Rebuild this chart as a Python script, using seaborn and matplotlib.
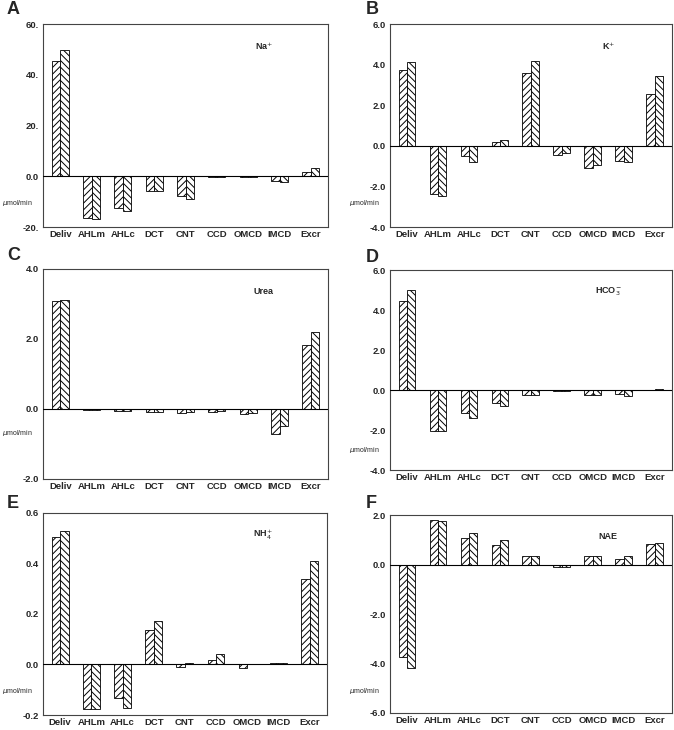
import pandas as pd
import matplotlib
matplotlib.use('Agg')
import matplotlib.pyplot as plt
import seaborn as sns

segments = ['Deliv', 'AHLm', 'AHLc', 'DCT', 'CNT', 'CCD', 'OMCD', 'IMCD', 'Excr']

# two bars per segment: first (///) and second (\\\)
na_1 = [45.3, -16.6, -12.6, -5.6, -7.9, -0.3, -0.1, -1.7, 1.6]
na_2 = [49.9, -16.8, -13.6, -5.7, -8.9, -0.4, -0.2, -2.1, 3.4]
k_1 = [3.72, -2.36, -0.51, 0.21, 3.60, -0.45, -1.07, -0.76, 2.56]
k_2 = [4.12, -2.48, -0.78, 0.30, 4.17, -0.33, -0.94, -0.79, 3.44]
urea_1 = [3.09, -0.02, -0.06, -0.09, -0.12, -0.09, -0.15, -0.71, 1.83]
urea_2 = [3.10, -0.02, -0.06, -0.08, -0.09, -0.06, -0.12, -0.50, 2.18]
hco3_1 = [4.48, -2.05, -1.14, -0.64, -0.26, -0.04, -0.26, -0.20, 0.02]
hco3_2 = [5.01, -2.02, -1.37, -0.81, -0.26, -0.04, -0.26, -0.31, 0.04]
nh4_1 = [0.504, -0.175, -0.132, 0.136, -0.009, 0.018, -0.014, 0.004, 0.340]
nh4_2 = [0.528, -0.178, -0.171, 0.173, 0.005, 0.042, 0.001, 0.004, 0.408]
nae_1 = [-3.73, 1.82, 1.08, 0.81, 0.34, -0.09, 0.34, 0.23, 0.82]
nae_2 = [-4.18, 1.78, 1.27, 1.01, 0.34, -0.09, 0.36, 0.34, 0.86]

ticks_a = [-20, 0, 20, 40, 60]
ticklabels_a = ['-20.', '0.0', '20.', '40.', '60.']
ticks_b = [-4, -2, 0, 2, 4, 6]
ticklabels_b = ['-4.0', '-2.0', '0.0', '2.0', '4.0', '6.0']
ticks_c = [-2, 0, 2, 4]
ticklabels_c = ['-2.0', '0.0', '2.0', '4.0']
ticks_d = [-4, -2, 0, 2, 4, 6]
ticklabels_d = ['-4.0', '-2.0', '0.0', '2.0', '4.0', '6.0']
ticks_e = [-0.2, 0, 0.2, 0.4, 0.6]
ticklabels_e = ['-0.2', '0.0', '0.2', '0.4', '0.6']
ticks_f = [-6, -4, -2, 0, 2]
ticklabels_f = ['-6.0', '-4.0', '-2.0', '0.0', '2.0']

sns.set_style('white')
plt.rcParams['font.family'] = ['Liberation Sans', 'DejaVu Sans']
plt.rcParams['hatch.linewidth'] = 0.7

fig = plt.figure(figsize=(6.74, 7.30), dpi=100)

# letter position given in pixels (x, y from top)
panels = [
    ('A', r'Na$^{+}$', na_1, na_2, ticks_a, ticklabels_a, [0.0638, 0.689, 0.423, 0.278], 0.118, (7, 10)),
    ('B', r'K$^{+}$', k_1, k_2, ticks_b, ticklabels_b, [0.5786, 0.689, 0.418, 0.278], 0.118, (366, 10)),
    ('C', 'Urea', urea_1, urea_2, ticks_c, ticklabels_c, [0.0638, 0.344, 0.423, 0.288], 0.22, (7, 255)),
    ('D', r'HCO$_3^{-}$', hco3_1, hco3_2, ticks_d, ticklabels_d, [0.5786, 0.356, 0.418, 0.274], 0.10, (366, 258)),
    ('E', r'NH$_4^{+}$', nh4_1, nh4_2, ticks_e, ticklabels_e, [0.0638, 0.0205, 0.421, 0.277], 0.12, (7, 503)),
    ('F', 'NAE', nae_1, nae_2, ticks_f, ticklabels_f, [0.5786, 0.0233, 0.418, 0.271], 0.11, (366, 503)),
]

for letter, ion, v1, v2, ticks, ticklabels, pos, ylab_y, lpos in panels:
    ax = fig.add_axes(pos)
    df = pd.DataFrame({
        'segment': segments * 2,
        'value': v1 + v2,
        'run': ['1'] * len(segments) + ['2'] * len(segments),
    })
    sns.barplot(data=df, x='segment', y='value', hue='run', palette=['white', 'white'],
                edgecolor='black', linewidth=0.6, width=0.54, legend=False, ax=ax)
    for cont, hatch in zip(ax.containers, ['/////', '\\\\\\\\\\']):
        for bar in cont:
            bar.set_hatch(hatch)

    ax.axhline(0, color='black', linewidth=0.8, zorder=3)
    ax.set_ylim(ticks[0], ticks[-1])
    ax.set_xlim(-0.55, len(segments) - 0.45)
    ax.set_yticks(ticks)
    ax.set_yticklabels(ticklabels, fontsize=6.8, fontweight='bold')
    ax.set_xticks(range(len(segments)))
    ax.set_xticklabels(segments, fontsize=6.8, fontweight='bold')
    ax.tick_params(axis='x', length=0, pad=2)
    ax.tick_params(axis='y', length=0, pad=3)
    ax.set_xlabel('')
    ax.set_ylabel('')
    for sp in ax.spines.values():
        sp.set_color('#444444')
        sp.set_linewidth(0.8)

    ax.text(0.775, 0.89, ion, transform=ax.transAxes, fontsize=6.5, fontweight='bold',
            ha='center', va='center')
    ax.text(-0.145, ylab_y, r'$\mu$mol/min', transform=ax.transAxes, fontsize=5,
            ha='left', va='center')
    fig.text(lpos[0] / 674, 1 - lpos[1] / 730, letter, fontsize=13, fontweight='bold',
             ha='left', va='center')

fig.savefig('out.png', dpi=100)
